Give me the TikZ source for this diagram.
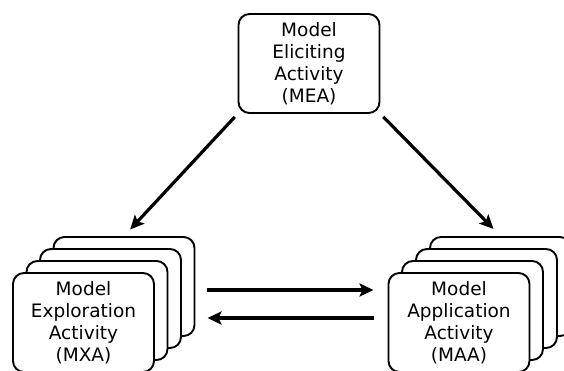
\documentclass[tikz,border=0pt]{standalone}
\usepackage{fontspec}
\setmainfont{DejaVu Sans}
\usetikzlibrary{arrows.meta,calc}
\tikzset{
  actbox/.style={draw, line width=1.9pt, rounded corners=11pt, fill=white,
    minimum width=141pt, minimum height=99pt, inner sep=0pt, align=center,
    font=\fontsize{18.5}{21.8}\selectfont},
  flow/.style={line width=3.2pt, -{Stealth[length=14pt,width=13pt,inset=3pt]}}
}
\begin{document}
\begin{tikzpicture}[x=1pt,y=-1pt]
\useasboundingbox (0,0) rectangle (564,370);
\clip (0,0) rectangle (564,370);
\node[actbox] (mea) at (309,63.5) {Model\\Eliciting\\Activity\\(MEA)};
% left stack
\node[actbox] (l4) at (124,286.5) {};
\node[actbox] (l3) at (110.5,298.5) {};
\node[actbox] (l2) at (97,310.5) {};
\node[actbox] (l1) at (83.5,322.5) {Model\\Exploration\\Activity\\(MXA)};
% right stack
\node[actbox] (r4) at (500.5,286.5) {};
\node[actbox] (r3) at (486.5,298.5) {};
\node[actbox] (r2) at (472.5,310.5) {};
\node[actbox] (r1) at (459,322.5) {Model\\Application\\Activity\\(MAA)};
% arrows
\draw[flow, shorten <=4pt, shorten >=9pt] (mea.south west) -- (l4.north);
\draw[flow, shorten <=4pt, shorten >=10pt] (mea.south east) -- (r4.north);
\draw[flow, shorten <=12pt, shorten >=14pt] ($(l4.east)+(0,3.5)$) -- ($(r1.west)+(0,-32.5)$);
\draw[flow, shorten <=14pt, shorten >=12pt] ($(r1.west)+(0,-4.5)$) -- ($(l4.east)+(0,31.5)$);
\end{tikzpicture}
\end{document}
